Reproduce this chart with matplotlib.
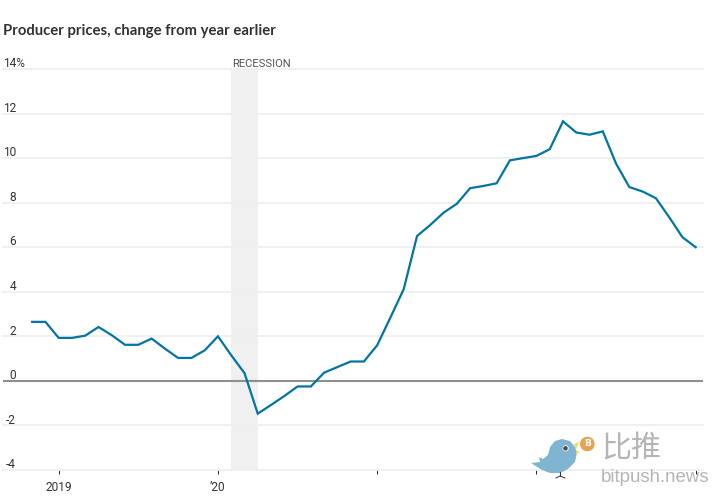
import matplotlib
matplotlib.use("Agg")
import matplotlib.pyplot as plt
from matplotlib.patches import Circle, Polygon
from matplotlib.transforms import blended_transform_factory

# months counted from Jan 2019 = 0
months = list(range(-2, 49))
ppi_change = [2.65, 2.65, 1.93, 1.93, 2.03, 2.42, 2.05, 1.62, 1.62, 1.9, 1.45, 1.03, 1.03, 1.37,
              2.0, 1.15, 0.35, -1.47, -1.08, -0.68, -0.25, -0.25, 0.37, 0.62, 0.87, 0.87,
              1.6, 2.85, 4.12, 6.5, 7.0, 7.55, 7.95, 8.65, 8.75, 8.87, 9.9, 10.0, 10.1,
              10.4, 11.65, 11.15, 11.05, 11.2, 9.75, 8.7, 8.5, 8.2, 7.35, 6.45, 6.0]
recession = (13, 15)
y_ticks = [14, 12, 10, 8, 6, 4, 2, 0, -2, -4]
y_labels = ["14%", "12", "10", "8", "6", "4", "2", "0", "-2", "-4"]
x_ticks = [0, 12, 24, 36, 48]
x_labels = ["2019", "\u201920", "", "", ""]

W, H = 728, 504
INK = "#333333"
BLUE = "#0274a5"
GRID = "#efefef"

plt.rcParams["font.family"] = ["Roboto", "DejaVu Sans"]

fig = plt.figure(figsize=(W / 100, H / 100), dpi=100, facecolor="white")
# axes placed in pixels: x 3..703, y 69..470
ax = fig.add_axes([3 / W, 1 - 470 / H, 700 / W, 401 / H])
ax.set_xlim(-4.197, 48.55)
ax.set_ylim(-4, 14)
for s in ax.spines.values():
    s.set_visible(False)
ax.set_yticks([])
ax.set_xticks(x_ticks, x_labels, fontsize=8.6, color=INK)
ax.tick_params(axis="x", length=3.2, width=0.7, color="#222222", pad=5)

ax.axvspan(recession[0], recession[1], color="#f0f0f0", lw=0, zorder=1)
for v in y_ticks:
    if v == 0:
        ax.axhline(0, color="#8f8f8f", lw=1.5, zorder=3)
    else:
        ax.axhline(v, color=GRID, lw=1.3, zorder=2, clip_on=False)

ax.plot(months, ppi_change, color=BLUE, lw=1.6, zorder=4, solid_joinstyle="miter")

# y labels sit just above the grid lines, digits right aligned
trans = blended_transform_factory(fig.transFigure, ax.transData)
for v, lab in zip(y_ticks, y_labels):
    if lab.endswith("%"):
        ax.text(3 / W, v + 0.08, lab, transform=trans, ha="left", va="baseline", fontsize=8.6, color=INK)
    else:
        ax.text(16 / W, v + 0.08, lab, transform=trans, ha="right", va="baseline", fontsize=8.6, color=INK)

ax.text(recession[0] + 0.05, 14.08, "RECESSION", ha="left", va="baseline", fontsize=8.1, color="#555555")

fig.text(3 / W, 1 - 31 / H, "Producer prices, change from year earlier", ha="left", va="center",
         fontsize=10.7, fontweight="bold", color=INK, family=["Lato", "DejaVu Sans"])

# bitpush watermark, in pixel coords
wm = fig.add_axes([0, 0, 1, 1], facecolor="none", zorder=5)
wm.set_xlim(0, W)
wm.set_ylim(H, 0)
wm.axis("off")
bird = [(531, 463), (540, 462), (539, 457), (543, 459), (548, 455), (550, 447), (555, 441), (562, 439),
        (570, 441), (575, 447), (577, 453), (575, 462), (568, 469), (560, 473), (550, 473), (542, 470)]
wm.add_patch(Polygon(bird, closed=True, fc="#7fb5d0", ec="none"))
wm.add_patch(Circle((565.7, 448.3), 3.2, fc="#dfe8ec", ec="none"))
wm.add_patch(Circle((565.5, 448.3), 2.2, fc="#4a4a55", ec="none"))
wm.add_patch(Polygon([(574, 444), (579, 442), (576, 449)], closed=True, fc="#f2d65c", ec="none"))
wm.add_patch(Polygon([(576, 450), (580, 452), (576, 454)], closed=True, fc="#f2d65c", ec="none"))
wm.add_patch(Circle((587.3, 444), 7.3, fc="#e9a24f", ec="none"))
wm.text(587.3, 444, "B", color="white", fontsize=6.5, ha="center", va="center", fontweight="bold",
        family=["DejaVu Sans"])
wm.plot([560, 560], [472, 476], color="#333333", lw=0.7)
wm.plot([556, 560, 565], [478, 476, 478], color="#333333", lw=0.7)
wm.text(601, 449, "比推", color="#b5b5b5", fontsize=21.6, ha="left", va="center",
        family=["Noto Sans CJK SC", "DejaVu Sans"])
wm.text(601, 477, "bitpush.news", color="#b5b5b5", fontsize=13.4, ha="left", va="center",
        family=["Liberation Sans", "DejaVu Sans"])

fig.savefig("out.png", dpi=100, facecolor="white")
